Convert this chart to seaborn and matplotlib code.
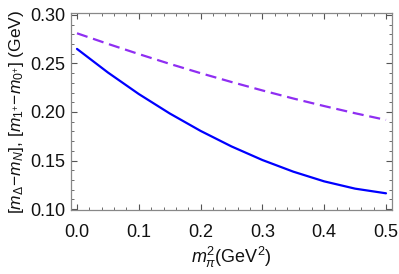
import matplotlib
matplotlib.use("Agg")
import matplotlib.pyplot as plt
import seaborn as sns
import pandas as pd
from matplotlib.ticker import MultipleLocator, FormatStrFormatter

# data
mpi2 = [0.0, 0.05, 0.10, 0.15, 0.20, 0.25, 0.30, 0.35, 0.40, 0.45, 0.50]
delta_n = [0.265, 0.2407, 0.2185, 0.1985, 0.1805, 0.1645, 0.1505, 0.1385, 0.1285, 0.1210, 0.1162]
m1_m0 = [0.2811, 0.2702, 0.2597, 0.2496, 0.2400, 0.2309, 0.2222, 0.2139, 0.2061, 0.1987, 0.1918]

sns.set_theme(style="ticks")
plt.rcParams['font.family'] = ['Liberation Sans', 'DejaVu Sans']
plt.rcParams['mathtext.fontset'] = 'custom'
plt.rcParams['mathtext.it'] = 'Liberation Sans:italic'
plt.rcParams['mathtext.rm'] = 'Liberation Sans'

df = pd.DataFrame({"x": mpi2, "a": delta_n, "b": m1_m0})

fig = plt.figure(figsize=(3.99, 2.74), dpi=100)
ax = fig.add_axes([71/399, 1-210/274, (392-71)/399, (210-13)/274])

sns.lineplot(data=df, x="x", y="b", ax=ax, color="#8F2EF2", lw=1.6,
             linestyle=(0, (5, 2.6)))
sns.lineplot(data=df, x="x", y="a", ax=ax, color="#0000FF", lw=1.6)

ax.set_xlim(-0.0097, 0.5097)
ax.set_ylim(0.099, 0.302)
ax.xaxis.set_major_locator(MultipleLocator(0.1))
ax.xaxis.set_minor_locator(MultipleLocator(0.02))
ax.yaxis.set_major_locator(MultipleLocator(0.05))
ax.yaxis.set_minor_locator(MultipleLocator(0.01))
ax.xaxis.set_major_formatter(FormatStrFormatter('%.1f'))
ax.yaxis.set_major_formatter(FormatStrFormatter('%.2f'))
ax.tick_params(which='both', direction='in', top=True, right=True, color='#555555')
ax.tick_params(which='major', length=4, width=0.8, labelsize=13, labelcolor='#111111')
ax.tick_params(axis='y', which='major', pad=4)
ax.tick_params(axis='x', which='major', pad=10)
ax.tick_params(which='minor', length=2, width=0.6)
for s in ax.spines.values():
    s.set_color('#888888')
    s.set_linewidth(0.9)

ax.set_xlabel(r"$m_{\pi}^{2}$(GeV$^{2}$)", fontsize=13, labelpad=3, color='#111111')
ax.set_ylabel(r"$[m_{\Delta}\!-\!m_{N}]$, $[m_{1^{+}}\!-\!m_{0^{+}}]$ (GeV)", fontsize=12.5, labelpad=3, color='#111111')

fig.savefig("out.png", dpi=100)
